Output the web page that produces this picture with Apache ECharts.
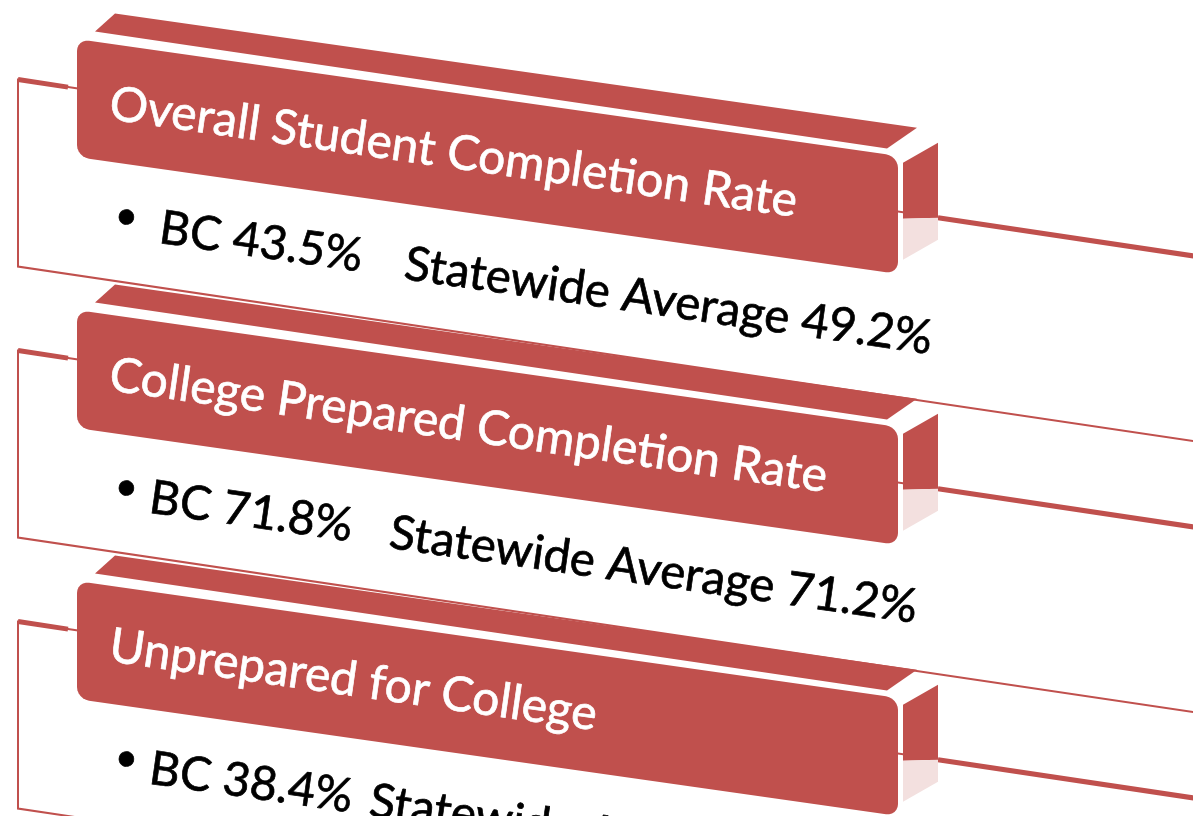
<!DOCTYPE html>
<html>
<head>
<meta charset="utf-8">
<script src="https://cdn.jsdelivr.net/npm/echarts@6/dist/echarts.min.js"></script>
<style>
html,body{margin:0;padding:0;background:#ffffff;}
#chart{width:1193px;height:816px;}
</style>
</head>
<body>
<div id="chart"></div>
<script>
// ---- data ----
const titles = ['Overall Student Completion Rate', 'College Prepared Completion Rate', 'Unprepared for College'];
const bcRates = [43.5, 71.8, 38.4];
const statewideRates = [49.2, 71.2, null];
const bcLabel = 'BC';
const statewideLabel = 'Statewide Average';

// ---- layout (not data) ----
const bcOffsets = [83, 73, 73];
const stateOffsets = [328, 313, 293];

const SLOPE = 0.1425;
const ROT = -Math.atan(SLOPE);
const RED = '#C0504D';
const PALE = '#F3E0DF';
const X0 = 77, Y0 = 39, STEP = 271;
const FONT = 'Lato, "Open Sans", sans-serif';

function P(i, u, v) { return [X0 + u, Y0 + STEP * i + v + u * SLOPE]; }

function roundRect(i, w, h, r) {
  const pts = [];
  const n = 6;
  const corners = [
    [w - r, r, -Math.PI / 2, 0],
    [w - r, h - r, 0, Math.PI / 2],
    [r, h - r, Math.PI / 2, Math.PI],
    [r, r, Math.PI, 1.5 * Math.PI]
  ];
  corners.forEach(function (c) {
    for (let k = 0; k <= n; k++) {
      const a = c[2] + (c[3] - c[2]) * k / n;
      pts.push(P(i, c[0] + r * Math.cos(a), c[1] + r * Math.sin(a)));
    }
  });
  return pts;
}

const elements = [];
let z = 1;
function add(el) { el.z = z++; elements.push(el); }

function pct(v) { return v.toFixed(1) + '%'; }

function textEl(pt, str, size, color) {
  return { type: 'text', x: pt[0], y: pt[1], rotation: ROT,
           style: { text: str, x: 0, y: 0, fill: color, stroke: color, lineWidth: 0.7,
                    font: size + 'px ' + FONT,
                    textAlign: 'left', textVerticalAlign: 'middle', verticalAlign: 'middle' } };
}

titles.forEach(function (title, i) {
  // outline panel behind
  add({ type: 'polygon', shape: { points: [P(i, -59, 49), P(i, 1140, 58), P(i, 1140, 243), P(i, -59, 236)] },
        style: { fill: '#ffffff', stroke: RED, lineWidth: 2 } });
  add({ type: 'polyline', shape: { points: [P(i, -59, 49), P(i, -9, 49.4)] },
        style: { stroke: RED, lineWidth: 5, fill: null } });
  add({ type: 'polyline', shape: { points: [P(i, 861, 56), P(i, 1140, 58)] },
        style: { stroke: RED, lineWidth: 5, fill: null } });
  // top face
  add({ type: 'polygon', shape: { points: [P(i, 18, -10), P(i, 38, -31), P(i, 840, -31), P(i, 810, -6)] },
        style: { fill: RED } });
  // side face
  add({ type: 'polygon', shape: { points: [P(i, 826, 6), P(i, 861, -19), P(i, 861, 56), P(i, 826, 62)] },
        style: { fill: RED } });
  add({ type: 'polygon', shape: { points: [P(i, 826, 62), P(i, 861, 56), P(i, 861, 78), P(i, 826, 103)] },
        style: { fill: PALE } });
  // front face
  add({ type: 'polygon', shape: { points: roundRect(i, 821, 118, 12) }, style: { fill: RED } });
  // title
  add(textEl(P(i, 33, 60), title, 48, '#ffffff'));
  // bullet line
  add(textEl(P(i, 38, 170), '\u2022', 40, '#000000'));
  add(textEl(P(i, bcOffsets[i], 177), bcLabel + ' ' + pct(bcRates[i]), 47, '#000000'));
  const sText = statewideRates[i] == null ? statewideLabel : statewideLabel + ' ' + pct(statewideRates[i]);
  add(textEl(P(i, stateOffsets[i], 178), sText, 47.5, '#000000'));
});

const chart = echarts.init(document.getElementById('chart'), null, { renderer: 'canvas' });
chart.setOption({
  backgroundColor: '#ffffff',
  animation: false,
  graphic: { elements: elements }
});
</script>
</body>
</html>
